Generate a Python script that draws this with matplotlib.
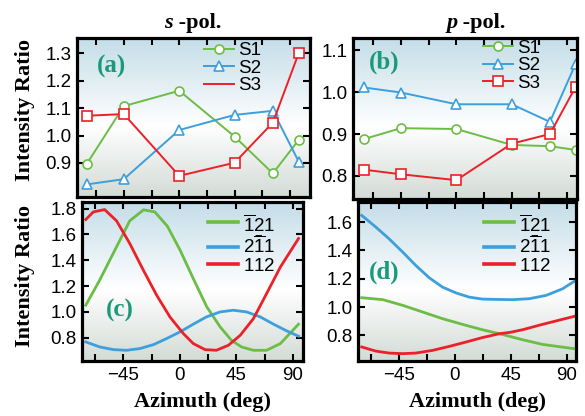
import matplotlib
matplotlib.use("Agg")
import matplotlib.pyplot as plt
import numpy as np
from matplotlib.colors import LinearSegmentedColormap

# panel (a) / (b): measured points
top_azimuth = [-75, -45, 0, 45, 76, 97]
s_pol_s1 = [0.897, 1.107, 1.163, 0.996, 0.862, 0.984]
s_pol_s2 = [0.822, 0.841, 1.020, 1.075, 1.090, 0.905]
s_pol_s3 = [1.072, 1.078, 0.853, 0.901, 1.047, 1.300]
p_pol_s1 = [0.888, 0.914, 0.912, 0.874, 0.871, 0.862]
p_pol_s2 = [1.011, 0.999, 0.971, 0.971, 0.929, 1.068]
p_pol_s3 = [0.815, 0.804, 0.790, 0.877, 0.900, 1.013]

# panel (c): calculated curves, s-pol
c_green_x = [-75, -64, -40, -29, -20, -10, 0, 10.6, 21.3, 32, 41, 49, 58.5, 69, 80, 94.4]
c_green_y = [1.052, 1.245, 1.705, 1.790, 1.774, 1.663, 1.480, 1.258, 1.040, 0.884, 0.780, 0.729, 0.703, 0.703, 0.755, 0.905]
c_red_x = [-75, -69, -60, -50.5, -40, -29, -18.6, -8, 2.7, 10.6, 20, 29, 38.6, 48, 58.5, 69, 80, 94.4]
c_red_y = [1.715, 1.774, 1.792, 1.705, 1.530, 1.320, 1.130, 0.961, 0.832, 0.755, 0.708, 0.703, 0.742, 0.819, 0.948, 1.142, 1.348, 1.568]
c_blue_x = [-75, -64, -53, -42.5, -32, -21, -10.6, 0, 10.6, 21, 32, 42.5, 53, 64, 74.5, 85, 94.4]
c_blue_y = [0.768, 0.729, 0.708, 0.703, 0.716, 0.747, 0.794, 0.845, 0.905, 0.961, 1.000, 1.013, 1.000, 0.961, 0.905, 0.853, 0.812]

# panel (d): calculated curves, p-pol
d_blue_x = [-75, -63.7, -53, -42, -31.5, -20.7, -10, 0.8, 11.6, 22.3, 33, 46.5, 60, 73.4, 86.8, 96]
d_blue_y = [1.647, 1.565, 1.482, 1.388, 1.294, 1.207, 1.141, 1.100, 1.070, 1.056, 1.054, 1.052, 1.059, 1.082, 1.129, 1.181]
d_green_x = [-75, -58, -42, -26, -10, 6, 22, 38, 54.6, 70.7, 96]
d_green_y = [1.066, 1.052, 1.012, 0.965, 0.918, 0.878, 0.840, 0.807, 0.769, 0.736, 0.706]
d_red_x = [-75, -63.7, -53, -42, -31.5, -18, -4.6, 9, 22, 36, 45, 54.6, 70.7, 96]
d_red_y = [0.718, 0.689, 0.675, 0.671, 0.675, 0.694, 0.722, 0.753, 0.784, 0.812, 0.822, 0.840, 0.878, 0.934]

curve_labels = [r"$\overline{1}\underset{-}{2}1$", r"$2\overline{1}1$", r"$112$"]

GREEN = "#6bbd45"
BLUE = "#3d9fdb"
RED = "#ec2028"
TEAL = "#1b9a7a"
SANS = "Liberation Sans"
SERIF = "Liberation Serif"

plt.rcParams["font.family"] = SANS
plt.rcParams["mathtext.fontset"] = "custom"
plt.rcParams["mathtext.rm"] = SANS
plt.rcParams["mathtext.it"] = SANS
plt.rcParams["mathtext.bf"] = SANS

bg_cmap = LinearSegmentedColormap.from_list(
    "bg", [(0.0, "#d3dbd6"), (0.45, "#ffffff"), (1.0, "#c4dde8")]
)


def _style(ax, xlim, ylim, yticks, label_x):
    ax.set_xlim(*xlim)
    ax.set_ylim(*ylim)
    grad = np.linspace(0, 1, 256).reshape(-1, 1)
    ax.imshow(grad, cmap=bg_cmap, origin="lower", aspect="auto",
              extent=[0, 1, 0, 1], transform=ax.transAxes, zorder=0)
    for spine in ax.spines.values():
        spine.set_linewidth(2.3)
    ax.set_xticks([-45, 0, 45, 90])
    ax.set_xticks([-67.5, -22.5, 22.5, 67.5], minor=True)
    ax.set_yticks(yticks)
    ax.tick_params(which="both", direction="in", top=True, right=True,
                   length=5, width=1.5, labelsize=13.5, pad=4)
    if not label_x:
        ax.tick_params(labelbottom=False)


fig = plt.figure(figsize=(5.85, 4.16), dpi=100)
ax_a = fig.add_axes([0.1316, 0.5264, 0.398, 0.3822])
ax_b = fig.add_axes([0.6034, 0.5216, 0.3829, 0.387])
ax_c = fig.add_axes([0.1402, 0.1322, 0.3778, 0.382])
ax_d = fig.add_axes([0.612, 0.1322, 0.3727, 0.382])

marker_kw = dict(markerfacecolor="white", markersize=6.5, markeredgewidth=1.2, linewidth=1.4)

# (a)
_style(ax_a, (-83, 106), (0.776, 1.355), [0.9, 1.0, 1.1, 1.2, 1.3], False)
ax_a.plot(top_azimuth, s_pol_s1, color=GREEN, marker="o", label="S1", **marker_kw)
ax_a.plot(top_azimuth, s_pol_s2, color=BLUE, marker="^", label="S2", **marker_kw)
ax_a.plot(top_azimuth, s_pol_s3, color=RED, marker="s", **marker_kw)
ax_a.plot([], [], color=RED, linewidth=1.4, label="S3")

# (b)
_style(ax_b, (-84, 98), (0.745, 1.129), [0.8, 0.9, 1.0, 1.1], False)
ax_b.plot(top_azimuth, p_pol_s1, color=GREEN, marker="o", label="S1", **marker_kw)
ax_b.plot(top_azimuth, p_pol_s2, color=BLUE, marker="^", label="S2", **marker_kw)
ax_b.plot(top_azimuth, p_pol_s3, color=RED, marker="s", label="S3", **marker_kw)

# (c)
_style(ax_c, (-78, 98), (0.62, 1.85), [0.8, 1.0, 1.2, 1.4, 1.6, 1.8], True)
ax_c.plot(c_green_x, c_green_y, color=GREEN, linewidth=2, label=curve_labels[0])
ax_c.plot(c_blue_x, c_blue_y, color=BLUE, linewidth=2, label=curve_labels[1])
ax_c.plot(c_red_x, c_red_y, color=RED, linewidth=2, label=curve_labels[2])

# (d)
_style(ax_d, (-78, 97.6), (0.619, 1.741), [0.8, 1.0, 1.2, 1.4, 1.6], True)
ax_d.plot(d_green_x, d_green_y, color=GREEN, linewidth=2, label=curve_labels[0])
ax_d.plot(d_blue_x, d_blue_y, color=BLUE, linewidth=2, label=curve_labels[1])
ax_d.plot(d_red_x, d_red_y, color=RED, linewidth=2, label=curve_labels[2])

legend_kw = dict(loc="upper left", frameon=False, fontsize=13.5, borderpad=0,
                 borderaxespad=0, handletextpad=0.25, labelspacing=0.02)
ax_a.legend(bbox_to_anchor=(0.545, 0.975), handlelength=1.6, **legend_kw)
ax_b.legend(bbox_to_anchor=(0.58, 0.99), handlelength=1.6, **legend_kw)
for ax in (ax_c, ax_d):
    leg = ax.legend(bbox_to_anchor=(0.57 if ax is ax_c else 0.578, 0.93),
                    handlelength=1.6, **legend_kw)
    for line in leg.get_lines():
        line.set_linewidth(2.6)

panel_kw = dict(color=TEAL, fontsize=18, fontweight="bold", family=SERIF,
                ha="center", va="center")
ax_a.text(0.15, 0.82, "(a)", transform=ax_a.transAxes, **panel_kw)
ax_b.text(0.138, 0.85, "(b)", transform=ax_b.transAxes, **panel_kw)
ax_c.text(0.172, 0.32, "(c)", transform=ax_c.transAxes, **panel_kw)
ax_d.text(0.12, 0.556, "(d)", transform=ax_d.transAxes, **panel_kw)

label_kw = dict(fontsize=16, fontweight="bold", family=SERIF)
fig.text(0.043, 0.736, "Intensity Ratio", rotation=90, ha="center", va="center", **label_kw)
fig.text(0.043, 0.337, "Intensity Ratio", rotation=90, ha="center", va="center", **label_kw)
fig.text(0.347, 0.034, "Azimuth (deg)", ha="center", va="center", **label_kw)
fig.text(0.817, 0.034, "Azimuth (deg)", ha="center", va="center", **label_kw)

for cx, letter in [(0.295, "s"), (0.782, "p")]:
    fig.text(cx, 0.945, letter, ha="right", va="center", style="italic", **label_kw)
    fig.text(cx, 0.945, " -pol.", ha="left", va="center", **label_kw)

fig.savefig("out.png", dpi=100)
